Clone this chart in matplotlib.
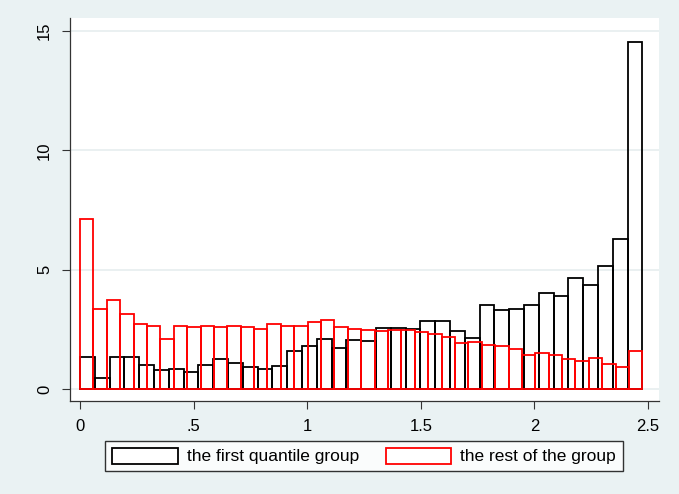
import matplotlib
matplotlib.use("Agg")
import matplotlib.pyplot as plt
import numpy
from matplotlib.patches import Patch

plt.rcParams["font.family"] = ["Liberation Sans", "DejaVu Sans"]

# histogram heights (density scale)
firstGroup = [1.35, 0.45, 1.34, 1.34, 1.00, 0.78, 0.84, 0.70, 0.99, 1.24,
              1.08, 0.93, 0.84, 0.97, 1.59, 1.79, 2.09, 1.72, 2.05, 2.03,
              2.56, 2.56, 2.51, 2.84, 2.84, 2.43, 2.15, 3.53, 3.33, 3.34,
              3.52, 4.02, 3.91, 4.65, 4.37, 5.14, 6.28, 14.54]
restGroup = [7.13, 3.37, 3.75, 3.13, 2.72, 2.65, 2.09, 2.65, 2.60, 2.66,
             2.62, 2.66, 2.59, 2.51, 2.71, 2.65, 2.65, 2.79, 2.88, 2.58,
             2.53, 2.47, 2.43, 2.46, 2.46, 2.39, 2.29, 2.18, 1.91, 1.97,
             1.86, 1.79, 1.69, 1.44, 1.52, 1.42, 1.24, 1.16, 1.30, 1.06,
             0.94, 1.61]
dataMax = 2.475
labels = ["the first quantile group", "the rest of the group"]
xticks = [0, 0.5, 1, 1.5, 2, 2.5]
xtickLabels = ["0", ".5", "1", "1.5", "2", "2.5"]
yticks = [0, 5, 10, 15]

bg = "#eaf2f3"
fig = plt.figure(figsize=(6.79, 4.94), dpi=100, facecolor=bg)
ax = fig.add_axes([70 / 679, 93 / 494, 589 / 679, 383 / 494])
ax.set_facecolor("white")

for heights, color in [(firstGroup, "black"), (restGroup, "#ff0000")]:
    n = len(heights)
    w = dataMax / n
    ax.bar(numpy.arange(n) * w, heights, width=w, align="edge", fill=False,
           edgecolor=color, linewidth=1.3, zorder=3)

ax.set_xlim(-0.044, 2.548)
ax.set_ylim(-0.50, 15.54)
ax.set_xticks(xticks, xtickLabels)
ax.set_yticks(yticks, [str(t) for t in yticks])
ax.tick_params(axis="both", direction="out", length=6, width=0.8,
               labelsize=12, color="#333333", pad=7)
for lab in ax.get_yticklabels():
    lab.set_rotation(90)
    lab.set_va("center")
ax.grid(axis="y", color="#e6eeef", linewidth=1.2, zorder=0)
for side in ["top", "right"]:
    ax.spines[side].set_visible(False)
for side in ["left", "bottom"]:
    ax.spines[side].set_color("#333333")
    ax.spines[side].set_linewidth(0.9)

handles = [Patch(facecolor="white", edgecolor="black", linewidth=1.3),
           Patch(facecolor="white", edgecolor="#ff0000", linewidth=1.3)]
leg = fig.legend(handles, labels, ncol=2, loc="center",
                 bbox_to_anchor=(364 / 679, 1 - 456 / 494), fontsize=12.5,
                 frameon=True, fancybox=False, edgecolor="black",
                 handlelength=3.75, handleheight=1.05, handletextpad=0.52,
                 columnspacing=1.55, borderpad=0.4)
leg.get_frame().set_linewidth(1.0)

fig.savefig("out.png", dpi=100, facecolor=bg)
